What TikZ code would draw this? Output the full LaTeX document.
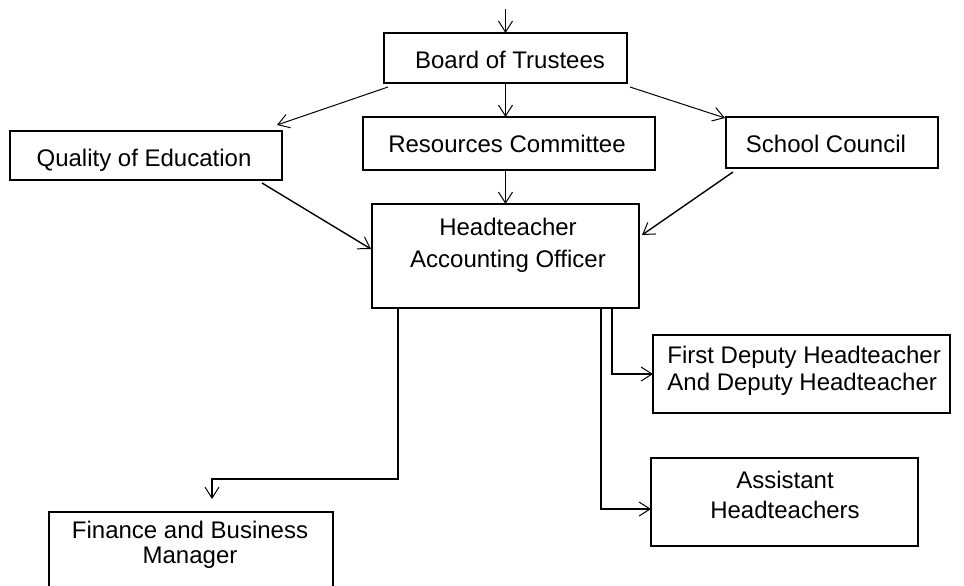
\documentclass[tikz,border=0pt]{standalone}
\usepackage{fontspec}
\setmainfont{Liberation Sans}
\usetikzlibrary{arrows.meta,calc}
\begin{document}
\begin{tikzpicture}[x=0.5pt,y=-0.5pt,
  boxwh/.style 2 args={draw,line width=0.9pt,minimum width=#1*0.5pt,
    minimum height=#2*0.5pt,inner sep=0pt,outer sep=0pt},
  txt/.style={font=\fontsize{12pt}{15pt}\selectfont,anchor=base,inner sep=0pt},
  link/.style={line width=0.7pt,-{Straight Barb[length=5.5pt,width=7pt,line width=0.5pt]}},
  thinlink/.style={link,line width=0.5pt},
]
\clip (0,0) rectangle (964,585);

% boxes
\node[boxwh={243}{50}]  (bot)  at (505.5,58)  {};
\node[boxwh={292}{53}]  (rc)   at (509,143.5) {};
\node[boxwh={272}{49}]  (qoe)  at (146,155.5) {};
\node[boxwh={212}{51}]  (sc)   at (832,142.5) {};
\node[boxwh={267}{104}] (head) at (505.5,256)  {};
\node[boxwh={297}{78}]  (fd)   at (801.5,374) {};
\node[boxwh={267}{88}]  (ah)   at (784.5,502) {};
\node[boxwh={284}{88}]  (fbm)  at (191,556)   {};

% box texts (multi-line nodes are placed by the baseline of their last line)
\node[txt] (bot-t) at (510,68)  {Board of Trustees};
\node[txt] (rc-t)  at (507,152) {Resources Committee};
\node[txt] (qoe-t) at (144,166) {Quality of Education};
\node[txt] (sc-t)  at (826,152) {School Council};
\node[txt,align=center,font=\fontsize{12pt}{16pt}\selectfont] (head-t) at (508,267)
  {Headteacher\\Accounting Officer};
\node[txt,align=left,anchor=base west,font=\fontsize{12pt}{13.5pt}\selectfont] (fd-t) at (667,390)
  {First Deputy Headteacher\\And Deputy Headteacher};
\node[txt,align=center,font=\fontsize{12pt}{15pt}\selectfont] (ah-t) at (785,518)
  {Assistant\\Headteachers};
\node[txt,align=center,font=\fontsize{12pt}{12.5pt}\selectfont] (fbm-t) at (190,563)
  {Finance and Business\\Manager};

% connectors
\coordinate (in) at (505.5,9);
\draw[link] (in) -- (bot.north);
\draw[link] (bot.south) -- (bot.south |- rc.north);
\draw[thinlink] ($(bot.south west)+(4,4)$) -- ($(qoe.north east)+(-5,-6)$);
\draw[thinlink] ($(bot.south east)+(3,4)$) -- ($(sc.north west)+(-1,1)$);
\draw[link] (head.north |- rc.south) -- (head.north);
\draw[link] ($(qoe.south east)+(-20,3)$) -- ($(head.west)+(-1,-7)$);
\draw[link] ($(sc.south west)+(7,4)$) -- ($(head.east)+(3,-21)$);
\draw[link] ($(head.south west)+(26,0)$) -- ++(0,171) -| ($(fbm.north)+(21,-13)$);
\draw[link] ($(head.south east)+(-27,0)$) |- (fd.west);
\draw[link] ($(head.south east)+(-38,0)$) |- ($(ah.west)+(0,7)$);
\end{tikzpicture}
\end{document}
